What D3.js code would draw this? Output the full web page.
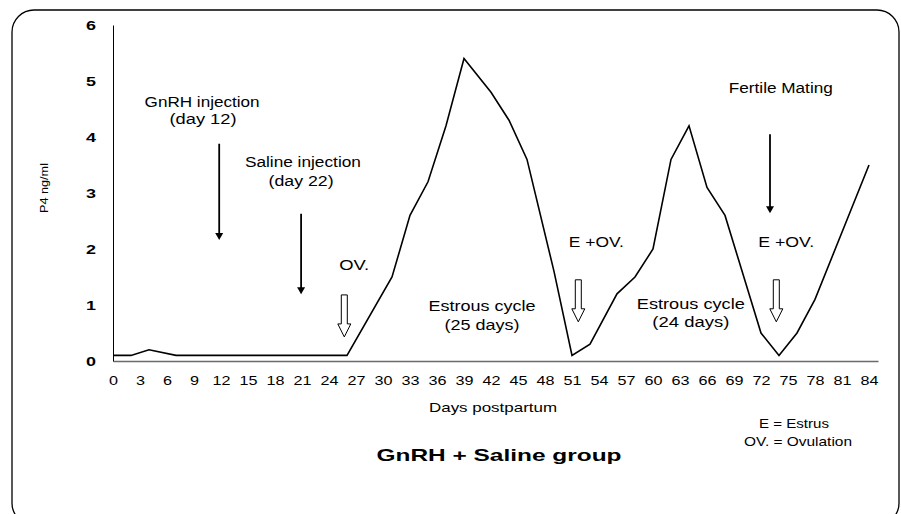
<!DOCTYPE html>
<html>
<head>
<meta charset="utf-8">
<script src="https://cdn.jsdelivr.net/npm/d3@7"></script>
<style>
  body { margin: 0; background: #fff; }
  svg text { font-family: "Liberation Sans", Arial, sans-serif; fill: #000; }
</style>
</head>
<body>
<svg width="901" height="514"></svg>
<script>
// P4 profile, days postpartum vs ng/ml
var days   = [0, 2, 4, 7, 26, 31, 33, 35, 37, 39, 42, 44, 46, 49, 51, 53, 56, 58, 60, 62, 64, 66, 68, 72, 74, 76, 78, 84];
var p4     = [0.1, 0.1, 0.2, 0.1, 0.1, 1.5, 2.6, 3.2, 4.2, 5.4, 4.8, 4.3, 3.6, 1.6, 0.1, 0.3, 1.2, 1.5, 2.0, 3.6, 4.2, 3.1, 2.6, 0.5, 0.1, 0.5, 1.1, 3.5];
var xTicks = d3.range(0, 85, 3);
var yTicks = [0, 1, 2, 3, 4, 5, 6];

// annotation texts, placed in data units (day, ng/ml)
var noteText  = ["GnRH injection", "(day 12)", "Saline injection", "(day 22)", "OV.", "Estrous cycle", "(25 days)", "E +OV.", "Estrous cycle", "(24 days)", "Fertile Mating", "E +OV."];
var noteDay   = [9.9, 10.0, 21.1, 20.9, 26.8, 41.0, 41.0, 53.7, 64.2, 64.2, 74.2, 74.8];
var noteVal   = [4.63, 4.32, 3.55, 3.21, 1.71, 0.98, 0.64, 2.13, 1.02, 0.70, 4.88, 2.13];
var noteWidth = [115, 67, 116, 65, 30, 107, 75, 55, 108, 77, 104, 56];

// solid arrows (injections, mating) and open arrows (ovulation)
var arrowDay  = [11.8, 20.9, 73];
var arrowTop  = [3.88, 2.63, 4.05];
var arrowTip  = [2.16, 1.19, 2.64];
var openDay   = [25.7, 51.7, 73.7];
var openTop   = [1.18, 1.45, 1.45];
var openTip   = [0.43, 0.70, 0.70];

var svg = d3.select("svg");

// Rounded frame
svg.append("rect")
    .attr("x", 12)
    .attr("y", 10)
    .attr("width", 887)
    .attr("height", 515)
    .attr("rx", 22)
    .attr("fill", "none")
    .attr("stroke", "#000")
    .attr("stroke-width", 1.3);

var x = d3.scaleLinear().domain([0, 85]).range([113, 878]);
var y = d3.scaleLinear().domain([0, 6]).range([361, 25]);

/******************************************
    Axes
******************************************/
var xAxis = svg.append("g")
    .attr("transform", "translate(0," + y(0) + ")")
    .call(d3.axisBottom(x).tickValues(xTicks).tickSize(0).tickPadding(14));
xAxis.select(".domain").attr("stroke", "#6a6a6a").attr("stroke-width", 1.6);
xAxis.selectAll("text")
    .attr("font-size", 13.5)
    .attr("textLength", d => String(d).length * 9)
    .attr("lengthAdjust", "spacingAndGlyphs");

var yAxis = svg.append("g")
    .attr("transform", "translate(" + x(0) + ",0)")
    .call(d3.axisLeft(y).tickValues(yTicks).tickFormat(d3.format("d")).tickSize(0).tickPadding(17));
yAxis.select(".domain").attr("stroke", "#000").attr("stroke-width", 1);
yAxis.selectAll("text")
    .attr("font-size", 13.5)
    .attr("font-weight", "bold")
    .attr("textLength", 10)
    .attr("lengthAdjust", "spacingAndGlyphs");

// axis titles
svg.append("text")
    .attr("transform", "translate(48,188) rotate(-90)")
    .attr("text-anchor", "middle")
    .attr("font-size", 11)
    .attr("textLength", 50)
    .attr("lengthAdjust", "spacingAndGlyphs")
    .text("P4 ng/ml");

svg.append("text")
    .attr("x", 493)
    .attr("y", 407)
    .attr("dy", "0.35em")
    .attr("text-anchor", "middle")
    .attr("font-size", 13)
    .attr("textLength", 128)
    .attr("lengthAdjust", "spacingAndGlyphs")
    .text("Days postpartum");

svg.append("text")
    .attr("x", 794)
    .attr("y", 423)
    .attr("dy", "0.35em")
    .attr("text-anchor", "middle")
    .attr("font-size", 13)
    .attr("textLength", 70)
    .attr("lengthAdjust", "spacingAndGlyphs")
    .text("E = Estrus");

svg.append("text")
    .attr("x", 798)
    .attr("y", 441)
    .attr("dy", "0.35em")
    .attr("text-anchor", "middle")
    .attr("font-size", 13)
    .attr("textLength", 108)
    .attr("lengthAdjust", "spacingAndGlyphs")
    .text("OV. = Ovulation");

svg.append("text")
    .attr("x", 499)
    .attr("y", 455)
    .attr("dy", "0.35em")
    .attr("text-anchor", "middle")
    .attr("font-size", 17)
    .attr("font-weight", "bold")
    .attr("textLength", 245)
    .attr("lengthAdjust", "spacingAndGlyphs")
    .text("GnRH + Saline group");

/******************************************
    Data line
******************************************/
var line = d3.line()
    .x((d, i) => x(days[i]))
    .y(d => y(d));

svg.append("path")
    .datum(p4)
    .attr("d", line)
    .attr("fill", "none")
    .attr("stroke", "#000")
    .attr("stroke-width", 1.6)
    .attr("stroke-linejoin", "miter");

/******************************************
    Annotations
******************************************/
svg.selectAll(".note")
    .data(noteText)
    .enter()
    .append("text")
    .attr("class", "note")
    .attr("x", (d, i) => x(noteDay[i]))
    .attr("y", (d, i) => y(noteVal[i]))
    .attr("dy", "0.35em")
    .attr("text-anchor", "middle")
    .attr("font-size", 14)
    .attr("textLength", (d, i) => noteWidth[i])
    .attr("lengthAdjust", "spacingAndGlyphs")
    .text(d => d);

// solid arrows
var solid = svg.selectAll(".solid-arrow")
    .data(arrowDay)
    .enter()
    .append("g")
    .attr("class", "solid-arrow");

solid.append("line")
    .attr("x1", d => x(d))
    .attr("x2", d => x(d))
    .attr("y1", (d, i) => y(arrowTop[i]))
    .attr("y2", (d, i) => y(arrowTip[i]) - 5)
    .attr("stroke", "#000")
    .attr("stroke-width", 1.8);

solid.append("path")
    .attr("d", (d, i) => {
        var cx = x(d), ty = y(arrowTip[i]);
        return "M" + (cx - 4) + "," + (ty - 7) + "L" + (cx + 4) + "," + (ty - 7) + "L" + cx + "," + ty + "Z";
    })
    .attr("fill", "#000");

// open (hollow) arrows
svg.selectAll(".open-arrow")
    .data(openDay)
    .enter()
    .append("path")
    .attr("class", "open-arrow")
    .attr("d", (d, i) => {
        var cx = x(d), top = y(openTop[i]), tip = y(openTip[i]);
        var neck = tip - 13;
        return "M" + (cx - 3) + "," + top +
            "L" + (cx + 3) + "," + top +
            "L" + (cx + 3) + "," + neck +
            "L" + (cx + 6.5) + "," + neck +
            "L" + cx + "," + tip +
            "L" + (cx - 6.5) + "," + neck +
            "L" + (cx - 3) + "," + neck + "Z";
    })
    .attr("fill", "#fff")
    .attr("stroke", "#000")
    .attr("stroke-width", 1);
</script>
</body>
</html>
